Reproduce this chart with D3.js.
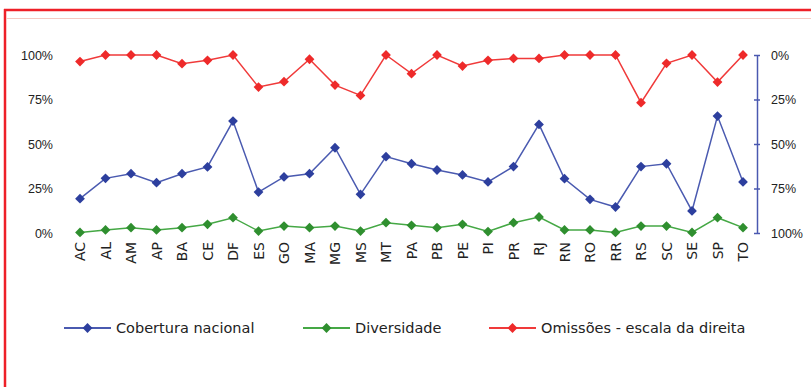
<!DOCTYPE html>
<html>
<head>
<meta charset="utf-8">
<script src="https://cdn.jsdelivr.net/npm/d3@7"></script>
<style>
  body { margin: 0; background: #fff; }
  svg { display: block; font-family: "DejaVu Sans", Verdana, sans-serif; }
</style>
</head>
<body>
<svg id="chart"></svg>
<script>
const WIDTH = 811;
const HEIGHT = 387;

const states = ["AC","AL","AM","AP","BA","CE","DF","ES","GO","MA","MG","MS","MT","PA",
  "PB","PE","PI","PR","RJ","RN","RO","RR","RS","SC","SE","SP","TO"];
const cobertura = [19.3,30.7,33.3,28.3,33.3,37.1,62.9,23,31.5,33.3,47.9,21.7,42.9,38.9,
  35.4,32.6,28.7,37.3,61,30.5,18.9,14.6,37.3,38.9,12.4,65.7,28.7];
const diversidade = [0.3,1.7,3,1.7,3,4.9,8.6,1.1,3.9,3,3.9,1.1,5.8,4.3,
  3,4.9,0.8,5.8,9,1.7,1.7,0.3,3.9,3.9,0.3,8.6,3];
const omissoes = [3.7,0,0,0,4.9,3,0,18,15,2.4,16.9,22.7,0,10.5,
  0,6.2,3,1.9,1.9,0,0,0,26.8,4.7,0,15.2,0];
const ticks = [0, 25, 50, 75, 100];

const svg = d3.select("#chart").attr("width", WIDTH).attr("height", HEIGHT);

// frame
svg.append("line").attr("x1", 4).attr("x2", WIDTH).attr("y1", 10).attr("y2", 10)
  .attr("stroke", "#ee2028").attr("stroke-width", 2.5);
svg.append("line").attr("x1", 5).attr("x2", 5).attr("y1", 9).attr("y2", HEIGHT)
  .attr("stroke", "#ee2028").attr("stroke-width", 2.5);
svg.append("line").attr("x1", 6).attr("x2", WIDTH).attr("y1", 18.5).attr("y2", 18.5)
  .attr("stroke", "#f6c9c2").attr("stroke-width", 1);

const x = d3.scalePoint().domain(states).range([80, 743]);
const yLeft = d3.scaleLinear().domain([0, 100]).range([233, 55]);
const yRight = d3.scaleLinear().domain([0, 100]).range([55, 233]);

// left axis: labels only
const leftAxis = svg.append("g")
  .attr("transform", "translate(57,0)")
  .call(d3.axisLeft(yLeft).tickValues(ticks).tickSize(0).tickPadding(4).tickFormat(d => d + "%"));
leftAxis.select(".domain").remove();
leftAxis.selectAll("text").attr("font-size", 12.5).attr("fill", "#222").attr("font-family", null);

// right axis
const rightAxis = svg.append("g")
  .attr("transform", "translate(757,0)")
  .call(d3.axisRight(yRight).tickValues(ticks).tickSizeInner(3).tickSizeOuter(0).tickPadding(11).tickFormat(d => d + "%"));
rightAxis.select(".domain").attr("stroke", "#4a58b0").attr("stroke-width", 1.5);
rightAxis.selectAll(".tick line").attr("stroke", "#4a58b0").attr("stroke-width", 1.5).attr("x1", -3);
rightAxis.selectAll("text").attr("font-size", 12.5).attr("fill", "#222").attr("font-family", null);

// x labels, rotated
svg.append("g").selectAll("text")
  .data(states)
  .join("text")
  .attr("transform", d => `translate(${x(d) + 5},242) rotate(-90)`)
  .attr("text-anchor", "end")
  .attr("font-size", 14)
  .attr("fill", "#222")
  .text(d => d);

const series = [
  { name: "Cobertura nacional", values: cobertura, y: yLeft, line: "#4a5ab0", mark: "#2d3f9e" },
  { name: "Diversidade", values: diversidade, y: yLeft, line: "#45a845", mark: "#2f8f2f" },
  { name: "Omissões - escala da direita", values: omissoes, y: yRight, line: "#f03a3a", mark: "#ee2a2a" }
];

const diamond = d3.symbol(d3.symbolSquare, 48);

series.forEach(s => {
  const line = d3.line()
    .x((d, i) => x(states[i]))
    .y(d => s.y(d));
  svg.append("path")
    .datum(s.values)
    .attr("fill", "none")
    .attr("stroke", s.line)
    .attr("stroke-width", 1.5)
    .attr("d", line);
  svg.append("g").selectAll("path")
    .data(s.values)
    .join("path")
    .attr("d", diamond)
    .attr("transform", (d, i) => `translate(${x(states[i])},${s.y(d)}) rotate(45)`)
    .attr("fill", s.mark);
});

// legend
const legendX = [64, 303, 489];
const legend = svg.append("g").selectAll("g")
  .data(series)
  .join("g")
  .attr("transform", (d, i) => `translate(${legendX[i]},328)`);
legend.append("line").attr("x1", 0).attr("x2", 47)
  .attr("stroke", d => d.line).attr("stroke-width", 2);
legend.append("path").attr("d", diamond)
  .attr("transform", "translate(23.5,0) rotate(45)")
  .attr("fill", d => d.mark);
legend.append("text")
  .attr("x", 52).attr("y", 5)
  .attr("font-size", 14.5)
  .attr("fill", "#222")
  .text(d => d.name);
</script>
</body>
</html>
